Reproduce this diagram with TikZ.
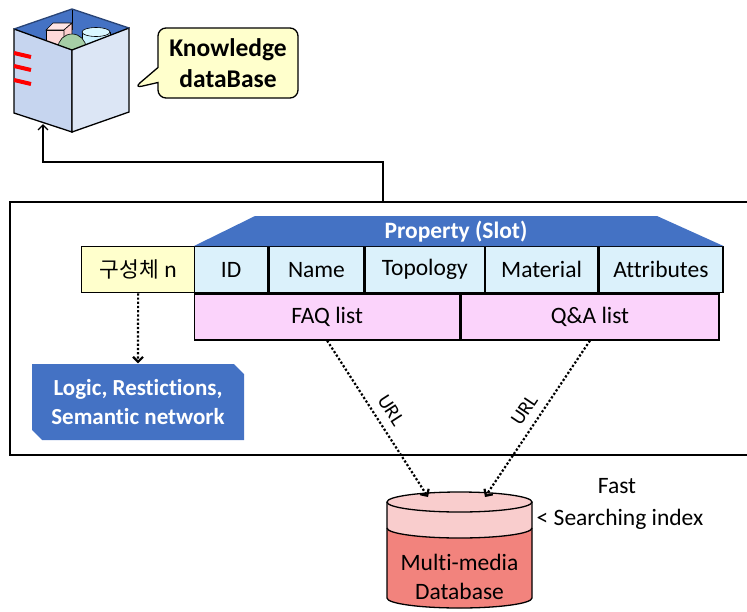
\documentclass[tikz,border=0pt]{standalone}
\usepackage{fontspec}
\setmainfont{Carlito}[Ligatures=NoCommon]
\newfontfamily\kofont{Noto Sans CJK KR}
\usetikzlibrary{arrows.meta,shapes.misc,shapes.callouts}

\definecolor{slotblue}{HTML}{4472C4}
\definecolor{cellblue}{HTML}{DBF1FB}
\definecolor{listpink}{HTML}{FBD3FB}
\definecolor{notepaper}{HTML}{FFFFCC}
\definecolor{dbtop}{HTML}{F9CDCD}
\definecolor{dbbody}{HTML}{F2837D}
\definecolor{boxleft}{HTML}{C6D5EF}
\definecolor{boxright}{HTML}{DCE6F5}

\begin{document}
\begin{tikzpicture}[x=1pt,y=-1pt,>={Straight Barb[length=5pt,width=10pt]},
  line width=1.3pt,font=\fontsize{23.5}{29}\selectfont,
  cell/.style={draw,fill=cellblue,anchor=north west,minimum height=46pt,inner sep=0pt},
  listcell/.style={cell,fill=listpink},
  link/.style={->,line width=2.2pt,dash pattern=on 2.2pt off 2pt},
  urltag/.style={font=\fontsize{20}{24}\selectfont,sloped,above=5pt}]
  \useasboundingbox (0,0) rectangle (747,611);

  % knowledge base box
  \fill[slotblue] (14,29) -- (72,9) -- (129,28) -- (72,50) -- cycle;
  \draw[line width=0.8pt] (72,9) -- (72,30);
  \begin{scope}
    \clip (14,29) -- (72,9) -- (129,28) -- (72,50) -- cycle;
    \draw[line width=0.6pt,fill=pink!60] (46,30) rectangle (64,46);
    \draw[line width=0.6pt,fill=pink!40] (46,30) -- (53,23) -- (72,23) -- (64,30) -- cycle;
    \draw[line width=0.6pt,fill=pink!75] (64,30) -- (72,23) -- (72,39) -- (64,46) -- cycle;
    \draw[line width=0.6pt,fill=blue!25!cyan!20] (82,32) -- (82,44) -- (110,44) -- (110,32);
    \draw[line width=0.6pt,fill=blue!20!cyan!15] (96,32) ellipse [x radius=14,y radius=4.5];
    \draw[line width=0.6pt,fill=green!45!black!35!white] (72,48) circle [radius=14];
  \end{scope}
  \draw[fill=boxleft] (14,29) -- (72,50) -- (72,132) -- (14,113) -- cycle;
  \draw[fill=boxright] (72,50) -- (129,28) -- (129,112) -- (72,132) -- cycle;
  \draw[slotblue!60!black] (14,29) -- (72,9) -- (129,28);
  \foreach \y in {53,66,80}
    \draw[red,line width=4pt] (14,\y) -- (31,\y+4);
  \coordinate (kbfoot) at (43,124);

  \node[rectangle callout,draw,fill=notepaper,rounded corners=8pt,
    minimum width=140pt,minimum height=70pt,align=center,
    callout absolute pointer={(134,88)},callout pointer width=15pt,
    font=\fontsize{25.5}{31}\selectfont\bfseries] (kbnote) at (228,63) {Knowledge\\dataBase};

  % frame around the slot table
  \draw (10,202) rectangle (760,455);
  \coordinate (frametop) at (383,202);
  \draw[->] (frametop) -- ++(0,-40) -| (kbfoot);

  % slot table
  \node[cell,fill=notepaper,minimum width=113pt] (part) at (81,246)
    {{\kofont\fontsize{21.5}{24}\selectfont 구성체} n};
  \node[cell,minimum width=73pt] (id) at (194,246) {ID};
  \node[cell,minimum width=95pt] (name) at (id.north east) {Name};
  \node[cell,minimum width=119pt] (topo) at (name.north east) {Topology};
  \node[cell,minimum width=112pt] (mat) at (topo.north east) {Material};
  \node[cell,minimum width=124pt] (attr) at (mat.north east) {Attributes};
  \node[listcell,minimum width=265pt] (faq) at (id.south west) {FAQ list};
  \node[listcell,minimum width=258pt] (qa) at (faq.north east) {Q\&A list};
  \fill[slotblue] (id.north west) -- (255,216) -- (657,216) -- (attr.north east) -- cycle;
  \node[text=white,font=\fontsize{23.5}{29}\selectfont\bfseries] (slot) at (456,232) {Property (Slot)};

  \node[chamfered rectangle,chamfered rectangle corners={north east,south west},
    chamfered rectangle xsep=7pt,fill=slotblue,text=white,align=center,inner sep=0pt,
    minimum width=212pt,minimum height=76pt,font=\fontsize{23}{29}\selectfont\bfseries]
    (logic) at (138,402) {Logic, Restictions,\\Semantic network};
  \draw[link] (part.south) -- (logic.north);

  % multimedia database
  \fill[dbtop] (387,502) -- (387,598) arc[start angle=180,end angle=0,x radius=72.5,y radius=10] -- (532,502) -- cycle;
  \fill[dbbody] (387,528) arc[start angle=180,end angle=0,x radius=72.5,y radius=10]
    -- (532,598) arc[start angle=0,end angle=180,x radius=72.5,y radius=10] -- cycle;
  \draw (387,502) -- (387,598) arc[start angle=180,end angle=0,x radius=72.5,y radius=10] -- (532,502);
  \draw (387,528) arc[start angle=180,end angle=0,x radius=72.5,y radius=10];
  \draw[fill=dbtop] (459.5,502) ellipse [x radius=72.5,y radius=10];
  \node[align=center] (mmdb) at (459.5,577) {Multi-media\\Database};
  \coordinate (inA) at (428,497);
  \coordinate (inB) at (485,497);

  \draw[link] (faq.south) -- node[urltag] (urlA) {URL} (inA);
  \draw[link] (qa.south) -- node[urltag] (urlB) {URL} (inB);

  \node (fast) at (617,486) {Fast};
  \node (idx) at (620,519) {< Searching index};
\end{tikzpicture}
\end{document}
